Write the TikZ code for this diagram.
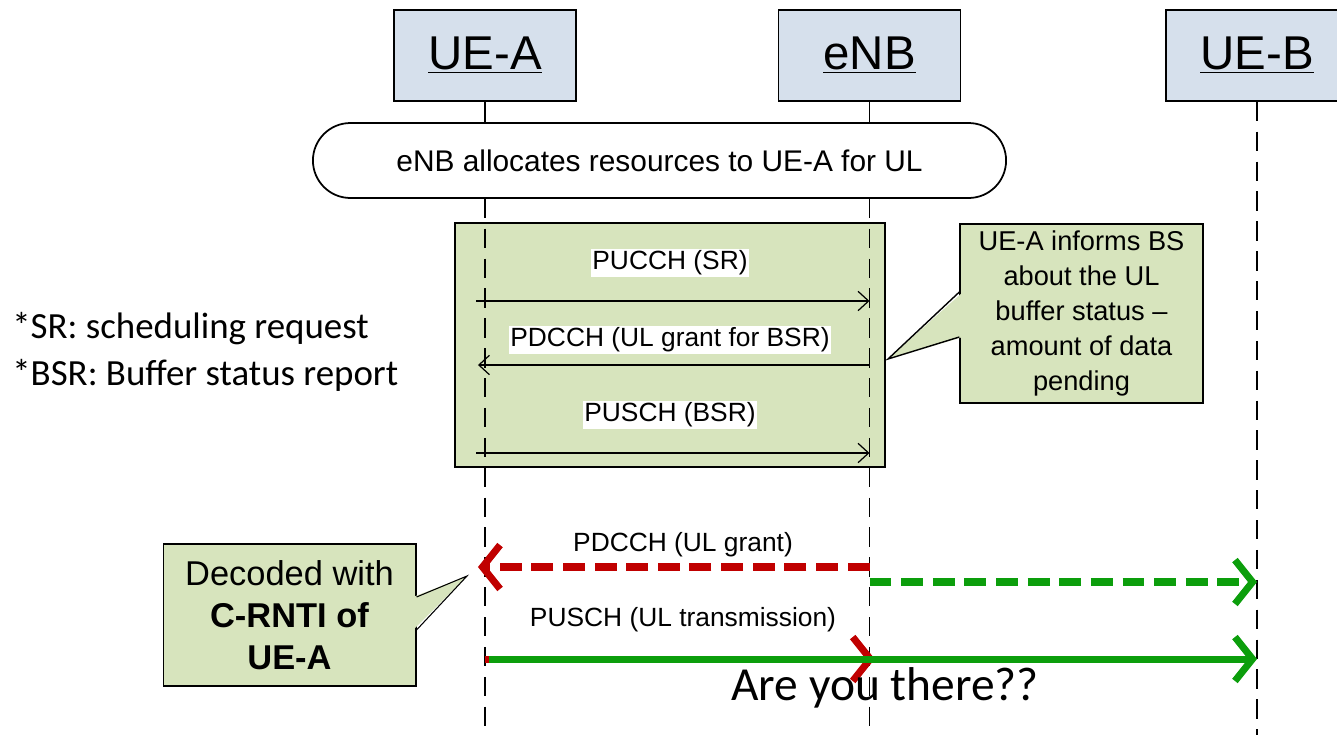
\documentclass[tikz,border=0pt]{standalone}
\usepackage{fontspec}
\setmainfont{Liberation Sans}
\newfontfamily\calibri{Carlito}
\usetikzlibrary{arrows.meta,shapes.misc}
\definecolor{headblue}{RGB}{214,224,236}
\definecolor{notegreen}{RGB}{215,228,189}
\definecolor{grantred}{RGB}{192,0,0}
\definecolor{grantgreen}{RGB}{12,158,12}

\begin{document}
\begin{tikzpicture}
    [x=0.02cm, y=-0.02cm,
     entity/.style={draw, line width=1pt, fill=headblue, minimum width=3.64cm, minimum height=1.82cm, font=\fontsize{27}{30}\selectfont},
     life/.style={line width=0.8pt, dash pattern=on 11pt off 6pt},
     msg/.style={line width=0.7pt, -{Straight Barb[length=6pt,width=11pt]}},
     lbl/.style={fill=white, inner sep=1pt, font=\fontsize{15}{18}\selectfont},
     big/.style={line width=4pt, -{Straight Barb[length=10pt,width=25pt]}},
     bigdash/.style={big, dash pattern=on 12.5pt off 5.5pt},
     note/.style={draw, line width=0.8pt, fill=notegreen, align=center}]
    \useasboundingbox (0,0) rectangle (1337,734);
    \clip (0,0) rectangle (1337,734);
    % participants
    \node[entity] (ueA) at (485,55.5) {\underline{UE-A}};
    \node[entity] (enb) at (869.5,55.5) {\underline{eNB}};
    \node[entity] (ueB) at (1257,55.5) {\underline{UE-B}};
    \node[draw, line width=1pt, rounded rectangle, minimum width=14.1cm, minimum height=1.5cm, font=\fontsize{17}{20}\selectfont] (alloc) at (659.5,160.5) {eNB allocates resources to UE-A for UL};
    % BSR exchange
    \node[draw, line width=1pt, fill=notegreen, minimum width=8.6cm, minimum height=4.88cm] (grp) at (670,345) {};
    \draw[line width=0.8pt] (ueA.south) -- (ueA.south |- alloc.north);
    \draw[line width=0.8pt] (enb.south) -- (enb.south |- alloc.north);
    \draw[life] (ueA.south |- alloc.south) -- (ueA.south |- 0,740);
    \draw[life] (enb.south |- alloc.south) -- (enb.south |- 0,740);
    \draw[life] (ueB.south) -- (ueB.south |- 0,740);
    \node[lbl] (sr) at (670,263) {PUCCH (SR)};
    \draw[msg, shorten <=-5pt] (ueA.south |- 0,301) -- (enb.south |- 0,301);
    \node[lbl] (grant1) at (670,340) {PDCCH (UL grant for BSR)};
    \draw[msg, shorten >=-4pt] (enb.south |- 0,365) -- (ueA.south |- 0,365);
    \node[lbl] (bsr) at (670,415) {PUSCH (BSR)};
    \draw[msg, shorten <=-5pt] (ueA.south |- 0,453) -- (enb.south |- 0,453);
    % note on the BSR
    \node[note, minimum width=4.86cm, minimum height=3.58cm, font=\fontsize{15.5}{19.8}\selectfont] (info) at (1081.5,313.5) {UE-A informs BS\\about the UL\\buffer status --\\amount of data\\pending};
    \coordinate (infotip) at (888,359);
    \fill[notegreen] (963,292) -- (infotip) -- (963,337) -- cycle;
    \draw[line width=0.8pt] (info.west |- 0,292) -- (infotip) -- (info.west |- 0,337);
    \node[anchor=west, inner sep=0pt, align=left, font=\calibri\fontsize{21}{27}\selectfont] (legend) at (12,352) {*SR: scheduling request\\*BSR: Buffer status report};
    % grant for UE-A
    \node[lbl] (grant2) at (683,545) {PDCCH (UL grant)};
    \draw[bigdash, grantred, shorten >=-4pt] (enb.south |- 0,567) -- (ueA.south |- 0,567);
    \draw[bigdash, grantgreen] (enb.south |- 0,582) -- (ueB.south |- 0,582);
    \node[lbl] (pusch) at (683,620) {PUSCH (UL transmission)};
    \draw[big, grantred, shorten >=-3pt] (ueA.south |- 0,659) -- (enb.south |- 0,659);
    \draw[big, grantgreen, shorten <=2pt] (ueA.south |- 0,659) -- (ueB.south |- 0,659);
    \node[font=\calibri\fontsize{27}{32}\selectfont] (ask) at (885,688) {Are you there??};
    % decoding note
    \node[note, line width=0.6pt, minimum width=5.06cm, minimum height=2.84cm, font=\fontsize{19.6}{23.8}\selectfont] (decode) at (289.5,615) {Decoded with\\\textbf{C-RNTI of}\\\textbf{UE-A}};
    \coordinate (decodetip) at (467,576);
    \fill[notegreen] (413,597) -- (decodetip) -- (413,630) -- cycle;
    \draw[line width=0.6pt] (decode.east |- 0,597) -- (decodetip) -- (decode.east |- 0,630);
\end{tikzpicture}
\end{document}
